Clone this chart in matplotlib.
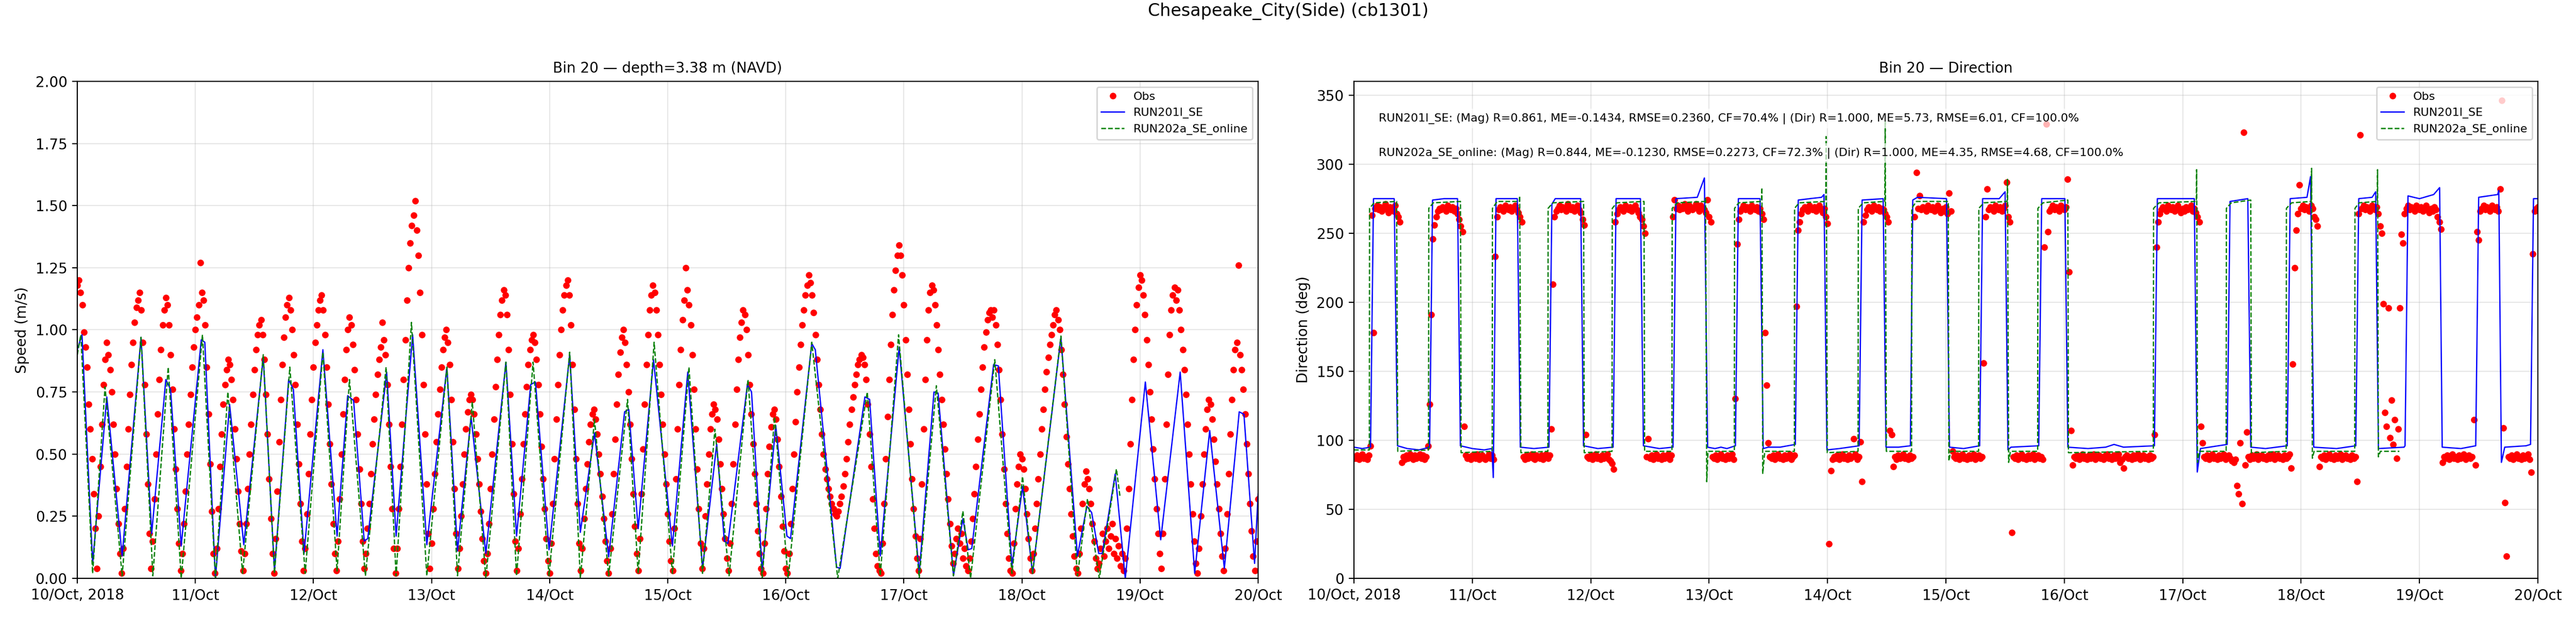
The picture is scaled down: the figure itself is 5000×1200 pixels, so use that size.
import numpy as np
import pandas as pd
import matplotlib
matplotlib.use("Agg")
import matplotlib.pyplot as plt
import matplotlib.dates as mdates
from matplotlib.ticker import FuncFormatter

start = pd.Timestamp("2018-10-10")
obs_step_min = 20  # obs sampled every 20 min, blocks keyed by sample index

# ---------------- speed (m/s) ----------------
# RUN201l_SE, turning points (day since 10/Oct, value)
run201_spd_day = [0.0, 0.04, 0.13, 0.25, 0.38, 0.54, 0.63, 0.75, 0.79, 0.88, 1.05, 1.08, 1.17, 1.29, 1.41,
                  1.575, 1.67, 1.79, 1.83, 1.92, 2.08, 2.20, 2.29, 2.34, 2.43, 2.46, 2.62, 2.70, 2.84, 2.96,
                  3.13, 3.22, 3.335, 3.46, 3.63, 3.72, 3.84, 3.88, 3.995, 4.17, 4.26, 4.38, 4.50, 4.635, 4.67,
                  4.75, 4.88, 5.04, 5.17, 5.295, 5.415, 5.48, 5.51, 5.675, 5.71, 5.80, 5.915, 6.01, 6.04, 6.22,
                  6.25, 6.43, 6.46, 6.67, 6.71, 6.80, 6.96, 7.13, 7.255, 7.29, 7.42, 7.50, 7.545, 7.575, 7.76,
                  7.80, 7.915, 8.005, 8.09, 8.33, 8.47, 8.55, 8.59, 8.65, 8.68, 8.79, 8.875, 9.045, 9.175, 9.34,
                  9.463, 9.59, 9.714, 9.84, 9.88, 9.97, 10.0]
run201_spd = [0.92, 0.98, 0.06, 0.73, 0.09, 0.97, 0.18, 0.80, 0.76, 0.13, 0.96, 0.95, 0.0, 0.70, 0.135,
              0.89, 0.03, 0.80, 0.76, 0.10, 0.92, 0.17, 0.735, 0.715, 0.15, 0.16, 0.83, 0.17, 0.98, 0.135,
              0.85, 0.11, 0.65, 0.10, 0.87, 0.17, 0.78, 0.79, 0.115, 0.90, 0.185, 0.585, 0.086, 0.67, 0.68,
              0.20, 0.88, 0.13, 0.83, 0.04, 0.54, 0.15, 0.14, 0.78, 0.75, 0.03, 0.615, 0.17, 0.16, 0.945,
              0.92, 0.045, 0.04, 0.73, 0.72, 0.09, 0.93, 0.02, 0.75, 0.745, 0.01, 0.24, 0.115, 0.12, 0.86,
              0.855, 0.05, 0.37, 0.02, 0.97, 0.09, 0.29, 0.265, 0.10, 0.10, 0.42, 0.0, 0.79, 0.155, 0.83,
              0.02, 0.595, 0.04, 0.67, 0.66, 0.06, 0.34]

# RUN202a_SE_online (ends on 18/Oct)
run202_spd_day = [0.0, 0.03, 0.13, 0.235, 0.38, 0.54, 0.64, 0.77, 0.88, 1.06, 1.17, 1.275, 1.40, 1.575, 1.67,
                  1.80, 1.93, 2.08, 2.20, 2.305, 2.44, 2.615, 2.70, 2.83, 2.96, 3.13, 3.22, 3.345, 3.46, 3.63,
                  3.72, 3.86, 3.995, 4.17, 4.26, 4.38, 4.50, 4.66, 4.75, 4.885, 5.04, 5.18, 5.295, 5.40, 5.52,
                  5.68, 5.80, 5.905, 6.02, 6.22, 6.44, 6.69, 6.80, 6.955, 7.13, 7.275, 7.42, 7.50, 7.565, 7.77,
                  7.915, 8.005, 8.09, 8.33, 8.47, 8.555, 8.655, 8.80, 8.83]
run202_spd = [0.90, 0.98, 0.02, 0.77, 0.01, 0.97, 0.01, 0.85, 0.0, 0.98, 0.0, 0.75, 0.02, 0.90, 0.02,
              0.85, 0.02, 0.91, 0.03, 0.80, 0.01, 0.85, 0.01, 1.03, 0.01, 0.85, 0.01, 0.71, 0.0, 0.87,
              0.01, 0.87, 0.01, 0.91, 0.0, 0.64, 0.01, 0.72, 0.02, 0.95, 0.02, 0.85, 0.02, 0.60, 0.01,
              0.80, 0.0, 0.65, 0.0, 0.95, 0.0, 0.75, 0.01, 0.98, 0.0, 0.775, 0.01, 0.27, 0.0, 0.88,
              0.02, 0.41, 0.02, 0.975, 0.01, 0.32, 0.0, 0.44, 0.33]

# observed speed, (first sample index, values)
obs_spd_runs = [
    (0, [1.18, 1.20, 1.15, 1.10, 0.99, 0.93, 0.85, 0.70, 0.60, 0.48, 0.34, 0.20, 0.04]),
    (13, [0.25, 0.45, 0.62, 0.78, 0.88, 0.95, 0.90, 0.84, 0.75, 0.62, 0.50, 0.36, 0.22, 0.10, 0.02]),
    (28, [0.12, 0.28, 0.45, 0.60, 0.74, 0.86, 0.95, 1.03, 1.09, 1.12, 1.15, 1.08, 0.95, 0.78, 0.58, 0.38, 0.18, 0.04]),
    (46, [0.15, 0.32, 0.50, 0.66, 0.80, 0.92, 1.02, 1.08, 1.13, 1.10, 1.02, 0.90, 0.76, 0.60, 0.44, 0.28, 0.14, 0.03]),
    (64, [0.10, 0.22, 0.35, 0.50, 0.62, 0.74, 0.85, 0.93, 1.00, 1.05, 1.10, 1.27, 1.15, 1.12, 1.02, 0.85, 0.66, 0.46,
          0.27, 0.10, 0.02]),
    (85, [0.12, 0.28, 0.45, 0.58, 0.70, 0.78, 0.84, 0.88, 0.86, 0.80, 0.72, 0.60, 0.48, 0.35, 0.22, 0.11, 0.03]),
    (102, [0.10, 0.22, 0.36, 0.50, 0.62, 0.74, 0.84, 0.92, 0.98, 1.02, 1.04, 0.98, 0.88, 0.74, 0.58, 0.40, 0.24, 0.10,
           0.02]),
    (121, [0.16, 0.35, 0.55, 0.72, 0.86, 0.97, 1.05, 1.10, 1.13, 1.08, 1.00, 0.90, 0.78, 0.62, 0.46, 0.30, 0.15, 0.03]),
    (139, [0.12, 0.26, 0.42, 0.58, 0.72, 0.85, 0.95, 1.02, 1.08, 1.12, 1.14, 1.08, 0.98, 0.85, 0.70, 0.54, 0.38, 0.22,
           0.10, 0.03]),
    (159, [0.15, 0.32, 0.50, 0.66, 0.80, 0.92, 1.00, 1.05, 1.02, 0.94, 0.84, 0.72, 0.58, 0.44, 0.30, 0.15, 0.04]),
    (176, [0.10, 0.20, 0.30, 0.42, 0.54, 0.64, 0.74, 0.82, 0.88, 0.93, 1.03, 0.96, 0.90, 0.78, 0.62, 0.45, 0.28, 0.12,
           0.02]),
    (195, [0.12, 0.28, 0.45, 0.62, 0.80, 0.96, 1.12, 1.25, 1.35, 1.42, 1.46, 1.52, 1.40, 1.30, 1.15, 0.98, 0.78, 0.58,
           0.38, 0.18, 0.04]),
    (216, [0.14, 0.28, 0.42, 0.55, 0.66, 0.76, 0.85, 0.92, 0.97, 1.00, 0.95, 0.86, 0.72, 0.55, 0.36, 0.18, 0.04]),
    (233, [0.12, 0.25, 0.38, 0.50, 0.60, 0.67, 0.72, 0.74, 0.72, 0.66, 0.58, 0.48, 0.38, 0.27, 0.16, 0.07, 0.02]),
    (250, [0.10, 0.22, 0.36, 0.50, 0.64, 0.77, 0.88, 0.98, 1.06, 1.12, 1.16, 1.14, 1.06, 0.92, 0.74, 0.54, 0.34, 0.15,
           0.03]),
    (269, [0.12, 0.26, 0.40, 0.54, 0.66, 0.77, 0.86, 0.92, 0.96, 0.98, 0.95, 0.88, 0.78, 0.66, 0.53, 0.40, 0.28, 0.16,
           0.07, 0.02]),
    (289, [0.14, 0.30, 0.48, 0.64, 0.78, 0.90, 1.00, 1.08, 1.14, 1.18, 1.20, 1.14, 1.02, 0.86, 0.68, 0.48, 0.30, 0.14,
           0.03]),
    (308, [0.12, 0.24, 0.36, 0.46, 0.55, 0.62, 0.66, 0.68, 0.64, 0.58, 0.50, 0.42, 0.33, 0.24, 0.15, 0.07, 0.02]),
    (325, [0.12, 0.26, 0.42, 0.56, 0.70, 0.82, 0.91, 0.97, 1.00, 0.95, 0.86, 0.75, 0.62, 0.48, 0.34, 0.21, 0.10, 0.03]),
    (343, [0.16, 0.34, 0.52, 0.70, 0.86, 0.98, 1.08, 1.14, 1.18, 1.15, 1.08, 0.98, 0.86, 0.74, 0.62, 0.50, 0.38, 0.26,
           0.15, 0.07, 0.03]),
    (364, [0.20, 0.40, 0.60, 0.78, 0.92, 1.04, 1.12, 1.25, 1.16, 1.10, 1.02, 0.90, 0.76, 0.60, 0.44, 0.28, 0.14, 0.04]),
    (382, [0.12, 0.25, 0.38, 0.50, 0.60, 0.66, 0.70, 0.68, 0.64, 0.56, 0.46, 0.36, 0.26, 0.16, 0.08, 0.03]),
    (398, [0.14, 0.30, 0.46, 0.62, 0.76, 0.88, 0.97, 1.03, 1.08, 1.06, 1.00, 0.90, 0.78, 0.66, 0.54, 0.42, 0.30, 0.19,
           0.10, 0.04, 0.02]),
    (419, [0.14, 0.28, 0.42, 0.53, 0.61, 0.66, 0.68, 0.64, 0.56, 0.45, 0.33, 0.21, 0.11, 0.04, 0.02]),
    (434, [0.10, 0.22, 0.36, 0.50, 0.63, 0.75, 0.85, 0.94, 1.02, 1.08, 1.14, 1.18, 1.22, 1.19, 1.14, 1.07, 0.98, 0.88,
           0.78, 0.68, 0.58, 0.50, 0.44, 0.40, 0.36, 0.33, 0.30, 0.28, 0.26, 0.25, 0.27, 0.30, 0.33, 0.37, 0.42]),
    (469, [0.48, 0.55, 0.62, 0.68, 0.73, 0.78, 0.82, 0.86, 0.88, 0.90, 0.89, 0.86, 0.80, 0.70, 0.58, 0.45, 0.32, 0.20,
           0.10, 0.05, 0.03, 0.02]),
    (491, [0.14, 0.30, 0.48, 0.65, 0.80, 0.94, 1.06, 1.16, 1.24, 1.30, 1.34, 1.30, 1.22, 1.10, 0.96, 0.82, 0.68, 0.54,
           0.40, 0.28, 0.17, 0.08, 0.03]),
    (514, [0.16, 0.38, 0.60, 0.80, 0.96, 1.08, 1.15, 1.18, 1.16, 1.10, 1.02, 0.92, 0.82, 0.72, 0.62, 0.52, 0.42, 0.32,
           0.22, 0.13, 0.06]),
    (535, [0.10, 0.16, 0.20, 0.14, 0.18, 0.08, 0.12, 0.05, 0.03]),
    (544, [0.08, 0.15, 0.24, 0.34, 0.45, 0.56, 0.66, 0.76, 0.85, 0.93, 0.99, 1.04, 1.07, 1.08, 1.05, 1.08, 1.02, 0.94,
           0.84, 0.72, 0.58, 0.44, 0.30, 0.18, 0.08, 0.03, 0.02]),
    (571, [0.14, 0.28, 0.38, 0.45, 0.50, 0.48, 0.44, 0.36, 0.26, 0.16, 0.08, 0.03]),
    (583, [0.10, 0.20, 0.30, 0.40, 0.50, 0.60, 0.68, 0.76, 0.83, 0.89, 0.94, 0.98, 1.02, 1.06, 1.08, 1.04, 1.00, 0.92,
           0.82, 0.70, 0.57, 0.46, 0.36, 0.26, 0.17, 0.09, 0.04, 0.02]),
    (611, [0.10, 0.20, 0.30, 0.38, 0.43, 0.40, 0.36, 0.30, 0.22, 0.15, 0.08, 0.04]),
    (623, [0.06, 0.12, 0.18, 0.09, 0.15, 0.20, 0.12, 0.17, 0.22, 0.10, 0.16, 0.08, 0.13, 0.05, 0.10, 0.03]),
    (639, [0.08, 0.20, 0.36, 0.54, 0.72, 0.88, 1.00, 1.10, 1.17, 1.22, 1.20, 1.14, 1.06, 0.96, 0.86, 0.75, 0.64, 0.52,
           0.40, 0.28, 0.18, 0.10, 0.04]),
    (662, [0.18, 0.40, 0.62, 0.82, 0.98, 1.08, 1.14, 1.17, 1.12, 1.16, 1.08, 1.00, 0.92, 0.84, 0.74, 0.62, 0.50, 0.38,
           0.26, 0.15, 0.06, 0.02]),
    (684, [0.12, 0.25, 0.38, 0.50, 0.60, 0.68, 0.72, 0.70, 0.64, 0.56, 0.47, 0.38, 0.28, 0.18, 0.09, 0.03]),
    (700, [0.12, 0.26, 0.42, 0.58, 0.72, 0.84, 0.92, 0.95, 1.26, 0.90, 0.84, 0.76, 0.66, 0.54, 0.42, 0.30, 0.19, 0.09,
           0.03, 0.15, 0.32]),
]

# ---------------- direction (deg) ----------------
run201_dir_day = [0.00, 0.07, 0.14, 0.165, 0.34, 0.368, 0.45, 0.55, 0.639, 0.664, 0.76, 0.875, 0.899, 1.0, 1.10,
                  1.165, 1.177, 1.20, 1.38, 1.405, 1.52, 1.647, 1.672, 1.70, 1.915, 1.939, 2.06, 2.189, 2.214,
                  2.42, 2.445, 2.58, 2.695, 2.72, 2.90, 2.96, 2.987, 3.05, 3.10, 3.15, 3.222, 3.247, 3.43, 3.457,
                  3.50, 3.60, 3.728, 3.753, 3.85, 3.95, 3.97, 3.995, 4.10, 4.267, 4.292, 4.47, 4.494, 4.60, 4.70,
                  4.72, 4.76, 5.005, 5.03, 5.15, 5.285, 5.31, 5.45, 5.50, 5.524, 5.55, 5.784, 5.809, 6.005, 6.03,
                  6.20, 6.35, 6.42, 6.50, 6.761, 6.786, 7.098, 7.123, 7.15, 7.376, 7.40, 7.55, 7.575, 7.70, 7.883,
                  7.908, 8.05, 8.08, 8.107, 8.30, 8.462, 8.487, 8.60, 8.63, 8.653, 8.87, 8.878, 8.903, 9.00, 9.12,
                  9.17, 9.192, 9.35, 9.475, 9.50, 9.66, 9.67, 9.692, 9.72, 9.90, 9.938, 9.963, 10.0]
run201_dir = [95, 94, 95, 275, 275, 96, 94, 93, 95, 274, 275, 275, 96, 94, 93,
              94, 73, 275, 275, 95, 94, 95, 271, 275, 275, 96, 94, 95, 275,
              275, 96, 94, 95, 275, 276, 290, 95, 94, 95, 94, 96, 275, 275, 94,
              95, 95, 97, 274, 275, 276, 278, 93, 94, 96, 274, 275, 95, 95, 96,
              274, 276, 275, 95, 94, 96, 275, 275, 280, 93, 95, 96, 275, 275, 95,
              94, 95, 97, 95, 96, 275, 275, 77, 94, 97, 273, 275, 95, 94, 96,
              275, 276, 291, 95, 94, 96, 275, 276, 280, 94, 95, 96, 277, 275, 278,
              283, 95, 94, 96, 276, 278, 281, 84, 95, 96, 97, 275, 275]

run202_dir_day = [0.00, 0.13, 0.132, 0.17, 0.36, 0.37, 0.63, 0.632, 0.67, 0.90, 0.905, 1.168, 1.17, 1.21, 1.397,
                  1.40, 1.41, 1.638, 1.64, 1.68, 1.94, 1.945, 2.18, 2.182, 2.22, 2.45, 2.455, 2.686, 2.688, 2.73,
                  2.967, 2.97, 2.98, 2.99, 3.213, 3.215, 3.25, 3.443, 3.446, 3.453, 3.47, 3.72, 3.722, 3.76,
                  3.985, 3.988, 3.998, 4.258, 4.26, 4.30, 4.484, 4.487, 4.497, 4.71, 4.712, 4.75, 5.02, 5.025,
                  5.04, 5.276, 5.278, 5.32, 5.517, 5.52, 5.53, 5.545, 5.775, 5.777, 5.82, 6.03, 6.035, 6.752,
                  6.754, 6.80, 7.115, 7.118, 7.125, 7.14, 7.367, 7.369, 7.41, 7.575, 7.58, 7.874, 7.876, 7.92,
                  8.086, 8.089, 8.095, 8.11, 8.453, 8.455, 8.49, 8.643, 8.646, 8.653, 8.67, 8.83]
run202_dir = [93, 93, 268, 272, 273, 92, 93, 268, 272, 273, 91, 92, 268, 273, 273,
              277, 91, 92, 268, 272, 273, 91, 92, 268, 272, 273, 92, 92, 268, 272,
              273, 275, 70, 92, 92, 268, 272, 273, 283, 76, 92, 92, 268, 272,
              273, 320, 91, 92, 268, 272, 273, 332, 92, 92, 268, 273, 273, 85,
              92, 92, 268, 272, 273, 289, 84, 92, 92, 268, 272, 274, 91, 92,
              268, 272, 273, 296, 84, 92, 92, 268, 272, 274, 91, 92, 268, 272,
              273, 297, 87, 92, 92, 268, 272, 273, 296, 88, 92, 92]

obs_dir_runs = [
    (0, [88, 87, 89, 86, 88, 90, 87, 88, 86, 89, 96]),
    (11, [263, 178, 268, 270, 267, 269, 266, 268, 271, 267, 265, 269, 268, 266, 270, 264, 262, 258]),
    (29, [84, 88, 86, 89, 87, 90, 88, 86, 89, 87, 88, 90, 87, 89, 86, 88, 96, 126, 191, 246]),
    (49, [256, 262, 266, 268, 267, 269, 268, 266, 270, 268, 267, 269, 266, 268, 264, 260, 255, 251]),
    (67, [110, 89, 87, 88, 86, 89, 88, 87, 90, 86, 88, 89, 87, 86, 88, 90, 87, 89, 86]),
    (86, [233, 262, 267, 269, 268, 266, 270, 268, 267, 269, 266, 268, 270, 267, 265, 262, 258]),
    (103, [88, 86, 89, 87, 88, 90, 87, 86, 89, 88, 87, 89, 86, 88, 90, 87, 89, 108, 213]),
    (122, [262, 266, 268, 270, 267, 269, 268, 266, 271, 268, 267, 269, 266, 268, 270, 267, 265, 260, 256]),
    (141, [104, 88, 87, 89, 86, 88, 90, 87, 88, 86, 89, 87, 88, 90, 86, 85, 83, 79]),
    (159, [258, 264, 267, 269, 268, 266, 270, 268, 267, 269, 266, 268, 270, 267, 265, 262, 260, 255, 250]),
    (178, [88, 101, 87, 89, 86, 88, 90, 87, 88, 86, 89, 87, 88, 90, 86, 89]),
    (194, [262, 274, 268, 270, 267, 269, 268, 271, 269, 266, 270, 268, 267, 269, 271, 268, 266, 270, 268, 267, 265,
           274, 262, 258]),
    (218, [88, 87, 89, 86, 88, 90, 87, 88, 86, 89, 87, 88, 90, 86, 130, 242]),
    (234, [260, 266, 268, 270, 267, 269, 268, 266, 270, 268, 267, 269, 266, 268, 264, 260, 178, 140]),
    (252, [98, 88, 87, 89, 86, 88, 90, 87, 88, 86, 89, 87, 88, 90, 86, 88, 89, 197, 252]),
    (271, [258, 264, 267, 269, 268, 266, 270, 268, 267, 269, 266, 268, 270, 267, 265, 268, 262, 257, 25, 78]),
    (291, [86, 88, 87, 89, 86, 88, 90, 87, 88, 86, 89, 87, 88, 101, 90, 86, 88, 99, 70]),
    (310, [258, 263, 267, 269, 268, 266, 270, 268, 267, 269, 266, 268, 267, 264, 262, 258]),
    (326, [107, 104, 81, 88, 86, 89, 87, 88, 90, 87, 88, 86, 89, 87, 88]),
    (341, [262, 294, 268, 277, 267, 269, 268, 266, 270, 268, 267, 269, 266, 268, 270, 267, 265, 268, 266, 269, 264,
           279, 266]),
    (364, [92, 88, 87, 89, 86, 88, 90, 87, 88, 86, 89, 87, 88, 90, 86, 88, 89, 87, 88, 156]),
    (384, [262, 282, 267, 269, 268, 266, 270, 268, 267, 269, 266, 268, 270, 287, 262, 258, 33]),
    (401, [88, 87, 89, 86, 88, 90, 87, 88, 86, 89, 87, 88, 90, 86, 88, 89, 87, 88, 86]),
    (420, [240, 329, 251, 266, 268, 270, 267, 269, 268, 266, 270, 268, 267, 269, 289, 222, 107, 82]),
    (438, [88, 87, 89, 86, 88, 90, 87, 88, 86, 89, 87, 88, 90, 86, 88, 89, 87, 88, 86, 89, 90, 87, 88, 86, 89,
           87, 88, 90, 84, 86, 80, 88, 89, 87, 88, 86, 89, 87, 88, 90, 86, 88, 89, 87, 88, 86, 89, 87, 88]),
    (487, [104, 240, 258, 264, 267, 269, 268, 266, 270, 268, 267, 269, 266, 268, 270, 267, 265, 268, 266, 269, 267,
           268, 270, 266, 268, 265, 262, 258, 110]),
    (516, [98, 88, 87, 89, 86, 88, 90, 87, 88, 86, 89, 87, 88, 90, 86, 88, 89, 87, 85, 84, 86, 67, 61, 98, 54,
           323, 82, 106]),
    (544, [88, 86, 89, 87, 88, 90, 86, 88, 89, 87, 88, 86, 89, 87, 88, 90, 86, 88, 89, 87, 88, 86, 89, 87, 88,
           90, 80, 155, 225, 252]),
    (574, [264, 285, 268, 270, 267, 269, 268, 266, 270, 268, 262, 260, 255]),
    (587, [81, 88, 87, 89, 86, 88, 90, 87, 88, 86, 89, 87, 88, 90, 86, 88, 89, 87, 88, 86, 89, 87, 88, 70]),
    (611, [264, 321, 268, 270, 267, 269, 268, 266, 270, 268, 267, 269, 264, 255, 250]),
    (626, [199, 120, 110, 196, 102, 129, 97, 115, 87, 108, 196]),
    (637, [249, 243, 264, 268, 270, 267, 269, 268, 266, 270, 268, 267, 269, 266, 268, 270, 267, 265, 268, 266, 269,
           267, 262, 258, 253]),
    (662, [84, 88, 87, 89, 86, 88, 90, 87, 88, 86, 89, 87, 88, 90, 86, 88, 89, 87, 88, 115, 82]),
    (683, [251, 245, 266, 268, 270, 267, 269, 268, 266, 270, 268, 267, 269, 266, 282, 346]),
    (699, [109, 55, 16, 88, 87, 89, 86, 88, 90, 87, 88, 86, 89, 87, 88, 90, 86, 77]),
    (717, [235, 266, 268, 269]),
]

stats_201 = ("RUN201l_SE: (Mag) R=0.861, ME=-0.1434, RMSE=0.2360, CF=70.4% | "
             "(Dir) R=1.000, ME=5.73, RMSE=6.01, CF=100.0%")
stats_202 = ("RUN202a_SE_online: (Mag) R=0.844, ME=-0.1230, RMSE=0.2273, CF=72.3% | "
             "(Dir) R=1.000, ME=4.35, RMSE=4.68, CF=100.0%")


def to_time(days):
    return start + pd.to_timedelta(np.asarray(days, dtype=float), unit="D")


def runs_to_series(runs):
    idx, vals = [], []
    for k0, v in runs:
        idx.extend(range(k0, k0 + len(v)))
        vals.extend(v)
    t = start + pd.to_timedelta(np.array(idx) * obs_step_min, unit="min")
    return t, np.array(vals, dtype=float)


def day_label(x, pos):
    d = mdates.num2date(x)
    s = d.strftime("%d/%b")
    if d.day == start.day and d.month == start.month:
        s += d.strftime(", %Y")
    return s


fig = plt.figure(figsize=(25, 6), dpi=200)
ax1 = fig.add_axes([0.030, 0.0642, 0.4584, 0.8042])
ax2 = fig.add_axes([0.5256, 0.0642, 0.4596, 0.8042])

ms = 3.6
lw = 0.9

t_obs, v_obs = runs_to_series(obs_spd_runs)
ax1.plot(t_obs, v_obs, "o", color="red", ms=ms, ls="none", label="Obs")
ax1.plot(to_time(run201_spd_day), run201_spd, "-", color="blue", lw=lw, label="RUN201l_SE")
ax1.plot(to_time(run202_spd_day), run202_spd, "--", color="green", lw=lw, label="RUN202a_SE_online")
ax1.set_ylim(0, 2.0)
ax1.set_yticks(np.arange(0, 2.01, 0.25))
ax1.set_ylabel("Speed (m/s)", fontsize=10)
ax1.set_title("Bin 20 \u2014 depth=3.38 m (NAVD)", fontsize=10)

t_obs, v_obs = runs_to_series(obs_dir_runs)
ax2.plot(t_obs, v_obs, "o", color="red", ms=ms, ls="none", label="Obs")
ax2.plot(to_time(run201_dir_day), run201_dir, "-", color="blue", lw=lw, label="RUN201l_SE")
ax2.plot(to_time(run202_dir_day), run202_dir, "--", color="green", lw=lw, label="RUN202a_SE_online")
ax2.set_ylim(0, 360)
ax2.set_yticks(np.arange(0, 351, 50))
ax2.set_ylabel("Direction (deg)", fontsize=10)
ax2.set_title("Bin 20 \u2014 Direction", fontsize=10)

box = dict(facecolor="white", alpha=0.7, edgecolor="none", pad=3)
ax2.text(0.021, 0.925, stats_201, transform=ax2.transAxes, fontsize=8, va="center", bbox=box)
ax2.text(0.021, 0.856, stats_202, transform=ax2.transAxes, fontsize=8, va="center", bbox=box)

for ax in (ax1, ax2):
    ax.set_xlim(start, start + pd.Timedelta(days=10))
    ax.xaxis.set_major_locator(mdates.DayLocator())
    ax.xaxis.set_major_formatter(FuncFormatter(day_label))
    ax.tick_params(labelsize=10)
    ax.grid(True, alpha=0.3)
    ax.legend(loc="upper right", fontsize=8)

fig.suptitle("Chesapeake_City(Side) (cb1301)", fontsize=12, y=0.982, va="center")
fig.savefig("out.png", dpi=200)
